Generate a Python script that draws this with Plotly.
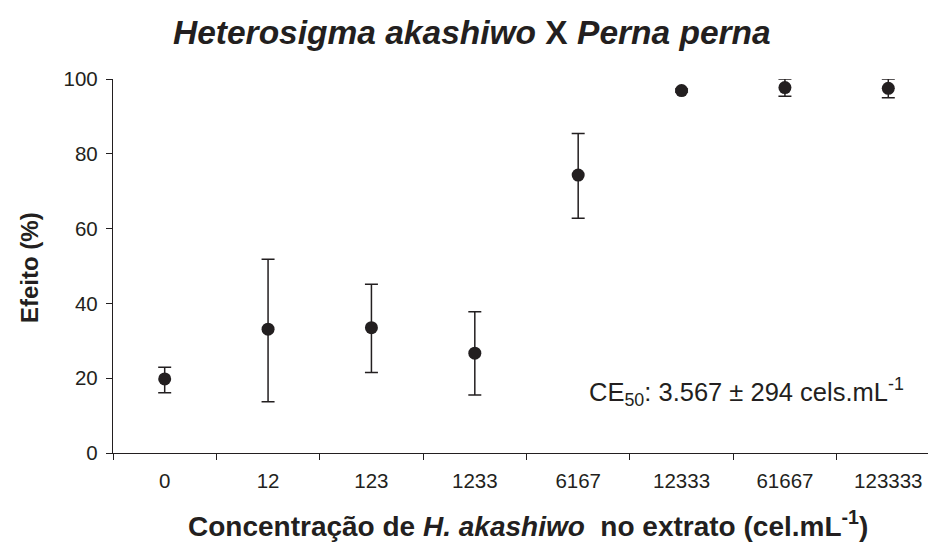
import plotly.graph_objects as go

categories = ["0", "12", "123", "1233", "6167", "12333", "61667", "123333"]
efeito = [19.8, 33.1, 33.5, 26.7, 74.3, 96.9, 97.7, 97.5]
err_plus = [3.1, 18.7, 11.6, 11.1, 11.1, 0.4, 2.3, 2.5]
err_minus = [3.7, 19.4, 12.0, 11.2, 11.5, 0.4, 2.3, 2.5]
y_ticks = [0, 20, 40, 60, 80, 100]

INK = "#231f20"
FONT = "Liberation Sans, Arial, sans-serif"

fig = go.Figure()
fig.add_trace(go.Scatter(
    x=categories, y=efeito, mode="markers",
    marker=dict(size=13, color=INK),
    error_y=dict(type="data", symmetric=False, array=err_plus, arrayminus=err_minus,
                 color=INK, thickness=1.5, width=6.5),
    showlegend=False,
))

fig.update_layout(
    width=928, height=550,
    margin=dict(l=113, r=0, t=79, b=97),
    paper_bgcolor="white", plot_bgcolor="white",
    font=dict(family=FONT, color=INK, size=20),
    xaxis=dict(
        type="category", range=[-0.5, 7.384],
        showline=True, linecolor=INK, linewidth=1.3,
        ticks="outside", ticklen=6, tickcolor=INK, tickwidth=1.3,
        tickson="boundaries", showgrid=False, zeroline=False,
        ticklabelstandoff=9,
        tickfont=dict(size=20.5, family=FONT, color=INK),
    ),
    yaxis=dict(
        range=[0, 100], tickvals=y_ticks,
        showline=True, linecolor=INK, linewidth=1.3,
        ticks="outside", ticklen=6, tickcolor=INK, tickwidth=1.3,
        showgrid=False, zeroline=False,
        ticklabelstandoff=4,
        tickfont=dict(size=20.5, family=FONT, color=INK),
    ),
    annotations=[
        dict(text="<b><i>Heterosigma akashiwo</i> X <i>Perna perna</i></b>",
             xref="paper", yref="paper", x=(472 - 113) / 815, y=1 + (79 - 33) / 374,
             xanchor="center", yanchor="middle", showarrow=False,
             font=dict(size=33.5, family=FONT, color=INK)),
        dict(text="<b>Concentração de <i>H. akashiwo</i>  no extrato (cel.mL<sup>-1</sup>)</b>",
             xref="paper", yref="paper", x=(528 - 113) / 815, y=-(524 - 453) / 374,
             xanchor="center", yanchor="middle", showarrow=False,
             font=dict(size=28, family=FONT, color=INK)),
        dict(text="<b>Efeito (%)</b>",
             xref="paper", yref="paper", x=-(113 - 29) / 815, y=(453 - 268) / 374,
             xanchor="center", yanchor="middle", showarrow=False, textangle=-90,
             font=dict(size=24, family=FONT, color=INK)),
        dict(text="CE<sub>50</sub>: 3.567 ± 294 cels.mL<sup>-1</sup>",
             xref="paper", yref="paper", x=(906 - 113) / 815, y=(453 - 392) / 374,
             xanchor="right", yanchor="middle", showarrow=False,
             font=dict(size=25.5, family=FONT, color=INK)),
    ],
)

fig.write_html("out.html")
